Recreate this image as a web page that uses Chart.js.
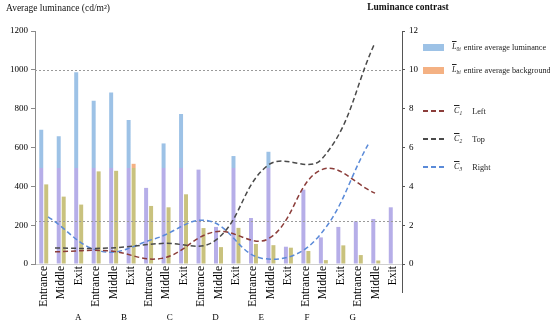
<!DOCTYPE html>
<html>
<head>
<meta charset="utf-8">
<script src="https://cdn.jsdelivr.net/npm/chart.js@4.4.1/dist/chart.umd.min.js"></script>
<style>
  html, body { margin: 0; padding: 0; background: #fff; }
  #wrap { position: relative; width: 550px; height: 323px; }
  #wrap canvas { position: absolute; left: 0; top: 0; }
  #legend { position: absolute; left: 423px; top: 0; font-family: "Liberation Serif", serif; font-size: 8.2px; color: #222; }
  .item { position: absolute; left: 0; height: 12px; margin-top: -6px; display: flex; align-items: center; white-space: nowrap; }
  .swatch { width: 21px; flex: none; }
  .sym { font-style: italic; text-decoration: overline; }
  .sym + sub { font-size: 5.5px; font-style: italic; vertical-align: -2px; }
</style>
</head>
<body>
<div id="wrap">
  <canvas id="barChart" width="550" height="323"></canvas>
  <canvas id="lineChart" width="550" height="323"></canvas>
  <div id="legend"></div>
</div>
<script>
// x categories
const groups = ["A", "B", "C", "D", "E", "F", "G"];
const positions = ["Entrance", "Middle", "Exit"];
const categories = groups.flatMap(() => positions);

// bars, cd/m2 (left axis)
const luminance = [692, 658, 988, 841, 883, 742, 392, 621, 773, 486, 191, 556, 237, 578, 89, 383, 137, 191, 220, 232, 292];
const background = [410, 347, 306, 477, 480, 516, 299, 292, 359, 185, 87, 186, 103, 97, 84, 67, 20, 96, 46, 18, 0];

// contrast per group (right axis)
const contrastLeft = [0.63, 0.68, 0.29, 1.66, 1.3, 4.86, 3.65];
const contrastTop = [0.82, 0.82, 1.06, 1.2, 5.1, 5.4, 11.4];
const contrastRight = [2.43, 0.65, 1.3, 2.23, 0.3, 1.2, 6.15];

const leftTicks = [0, 200, 400, 600, 800, 1000, 1200];
const rightTicks = [0, 2, 4, 6, 8, 10, 12];
const refLines = [1000, 220];

const seriesNames = ["entire average luminance", "entire average background", "Left", "Top", "Right"];
const seriesSymbols = [["L", "0i"], ["L", "bi"], ["C", "1"], ["C", "2"], ["C", "3"]];

Chart.defaults.font.family = '"Liberation Serif", "Times New Roman", serif';
Chart.defaults.color = "#111";

const tintLevel = 492;
// bars look washed below ~490 in the original
function splitColor(top, bottom) {
  return (c) => {
    const chart = c.chart;
    const area = chart.chartArea;
    if (!area) return top;
    const yCut = chart.scales.y.getPixelForValue(tintLevel);
    const f = Math.min(1, Math.max(0, (yCut - area.top) / (area.bottom - area.top)));
    const g = chart.ctx.createLinearGradient(0, area.top, 0, area.bottom);
    g.addColorStop(0, top);
    g.addColorStop(f, top);
    g.addColorStop(f, bottom);
    g.addColorStop(1, bottom);
    return g;
  };
}

function barSet(label, values, top, bottom) {
  return {
    label: label,
    data: values,
    backgroundColor: splitColor(top, bottom),
    legendColor: top,
    categoryPercentage: 0.57,
    barPercentage: 0.8,
    xAxisID: "x",
    yAxisID: "y"
  };
}

function contrastLine(label, values, color, axis) {
  return {
    label: label,
    data: values.map((v, i) => ({ x: i, y: v })),
    xAxisID: axis,
    yAxisID: "y1",
    borderColor: color,
    backgroundColor: color,
    borderWidth: 1.5,
    borderDash: [5, 3],
    pointRadius: 0,
    tension: 0.4,
    fill: false
  };
}

// both canvases share one layout; the line one only keeps the geometry
function makeScales(ghost) {
  const ink = (c) => (ghost ? "transparent" : c);
  return {
    x: {
      type: "category",
      labels: categories,
      offset: true,
      grid: { display: false, drawTicks: false },
      border: { display: !ghost, color: "#cfcfcf" },
      ticks: { minRotation: 90, maxRotation: 90, autoSkip: false, padding: 2, font: { size: 11.5 }, color: ink("#000") },
      afterFit: (s) => { s.height = 47; }
    },
    xg: {
      type: "linear",
      position: "bottom",
      weight: 1,
      min: -0.375,
      max: 6.506,
      grid: { display: false, drawTicks: false },
      border: { display: false },
      afterBuildTicks: (s) => { s.ticks = groups.map((g, i) => ({ value: i })); },
      ticks: { callback: (v) => groups[v] ?? "", autoSkip: false, maxRotation: 0, padding: 1, font: { size: 9 }, color: ink("#000") },
      afterFit: (s) => { s.height = 12; }
    },
    xr: { type: "linear", display: false, min: -0.245, max: 6.636 },
    y: {
      position: "left",
      min: 0,
      max: 1200,
      afterBuildTicks: (s) => { s.ticks = leftTicks.map((v) => ({ value: v })); },
      grid: { drawOnChartArea: false, tickLength: 4, color: ink("#8a8a8a") },
      border: { display: !ghost, color: "#8a8a8a" },
      ticks: { callback: (v) => String(v), padding: 3, font: { size: 9 }, color: ink("#000") },
      afterFit: (s) => { s.width = 35; }
    },
    y1: {
      position: "right",
      min: 0,
      max: 12,
      afterBuildTicks: (s) => { s.ticks = rightTicks.map((v) => ({ value: v })); },
      grid: { drawOnChartArea: false, tickLength: 3, color: ink("#555") },
      border: { display: !ghost, color: "#555" },
      ticks: { callback: (v) => String(v), padding: 4, font: { size: 9 }, color: ink("#000") },
      afterFit: (s) => { s.width = 20; }
    }
  };
}

const baseOptions = {
  responsive: false,
  animation: false,
  layout: { padding: { top: 31, right: 128, left: 0, bottom: 0 } },
  plugins: { legend: { display: false }, tooltip: { enabled: false } }
};

const extras = {
  id: "extras",
  afterDatasetsDraw(chart) {
    const { ctx, chartArea } = chart;
    const y = chart.scales.y;
    ctx.save();
    ctx.strokeStyle = "#9a9a9a";
    ctx.lineWidth = 1;
    ctx.setLineDash([2, 2]);
    refLines.forEach((v) => {
      const py = Math.round(y.getPixelForValue(v)) + 0.5;
      ctx.beginPath();
      ctx.moveTo(chartArea.left, py);
      ctx.lineTo(chartArea.right, py);
      ctx.stroke();
    });
    ctx.restore();
  },
  afterDraw(chart) {
    const { ctx, chartArea } = chart;
    ctx.save();
    ctx.fillStyle = "#111";
    ctx.textBaseline = "middle";
    ctx.font = '9.5px "Liberation Serif", serif';
    ctx.textAlign = "left";
    ctx.fillText("Average luminance (cd/m²)", 6, 8);
    ctx.font = 'bold 9.5px "Liberation Serif", serif';
    ctx.textAlign = "center";
    ctx.fillText("Luminance contrast", 408, 8);
    // right axis runs on below the plot
    ctx.strokeStyle = "#555";
    ctx.lineWidth = 1;
    const rx = Math.round(chartArea.right) + 0.5;
    ctx.beginPath();
    ctx.moveTo(rx, chartArea.bottom);
    ctx.lineTo(rx, chartArea.bottom + 29);
    ctx.stroke();
    ctx.restore();
  }
};

const barChart = new Chart(document.getElementById("barChart"), {
  type: "bar",
  data: {
    labels: categories,
    datasets: [
      barSet(seriesNames[0], luminance, "#9dc2e6", "#b6aee8"),
      barSet(seriesNames[1], background, "#f4b183", "#c9c27e")
    ]
  },
  options: Object.assign({}, baseOptions, { scales: makeScales(false) }),
  plugins: [extras]
});

const lineChart = new Chart(document.getElementById("lineChart"), {
  type: "line",
  data: {
    datasets: [
      contrastLine(seriesNames[2], contrastLeft, "#8b3d3a", "xg"),
      contrastLine(seriesNames[3], contrastTop, "#4a4a4a", "xg"),
      contrastLine(seriesNames[4], contrastRight, "#5a8ad8", "xr")
    ]
  },
  options: Object.assign({}, baseOptions, { scales: makeScales(true) })
});

// legend on the right
const legendRows = [47, 70, 111, 139, 167];
const legendEl = document.getElementById("legend");
const allSets = barChart.data.datasets.concat(lineChart.data.datasets);
allSets.forEach((ds, i) => {
  const isLine = i >= barChart.data.datasets.length;
  const item = document.createElement("div");
  item.className = "item";
  item.style.top = legendRows[i] + "px";
  const sw = document.createElement("span");
  sw.className = "swatch";
  if (isLine) {
    sw.style.height = "2px";
    sw.style.background = "repeating-linear-gradient(90deg, " + ds.borderColor + " 0 5px, transparent 5px 8px)";
  } else {
    sw.style.height = "7px";
    sw.style.background = ds.legendColor;
  }
  item.appendChild(sw);
  const sym = document.createElement("span");
  sym.style.marginLeft = isLine ? "10px" : "8px";
  sym.innerHTML = '<span class="sym">' + seriesSymbols[i][0] + "</span><sub>" + seriesSymbols[i][1] + "</sub>";
  item.appendChild(sym);
  const txt = document.createElement("span");
  txt.style.marginLeft = isLine ? "10px" : "3px";
  txt.textContent = ds.label;
  item.appendChild(txt);
  legendEl.appendChild(item);
});
</script>
</body>
</html>
